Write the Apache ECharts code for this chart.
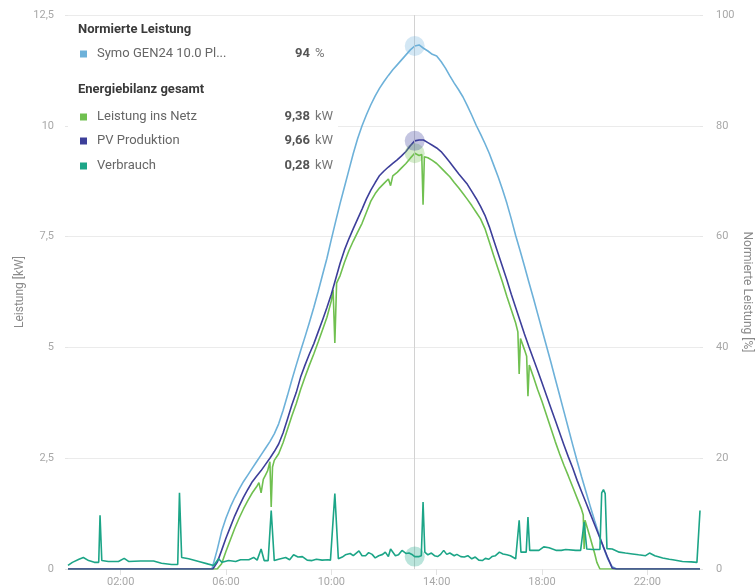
<!DOCTYPE html>
<html><head><meta charset="utf-8">
<script src="https://cdn.jsdelivr.net/npm/echarts@6/dist/echarts.min.js"></script>
<style>html,body{margin:0;padding:0;background:#fff}#c{width:756px;height:588px}</style>
</head><body><div id="c"></div>
<script>
// time in minutes since 00:00
const xLabelMinutes = [120, 360, 600, 840, 1080, 1320];

// Normierte Leistung [%] – Symo GEN24 10.0 Plus
const normiert = [[0,0],[328,0],[340,3.5],[350,6.8],[360,9.2],[370,11.2],[380,12.9],[390,14.4],[400,15.8],[410,17.0],[420,18.2],[430,19.4],[440,20.6],[450,21.8],[460,23.0],[470,24.4],[480,26.2],[490,28.6],[500,31.3],[510,34.1],[520,36.8],[530,39.4],[540,41.9],[550,44.5],[560,47.2],[570,50.1],[580,53.1],[590,56.1],[600,59.5],[610,62.8],[620,66.0],[630,69.0],[640,72.0],[650,75.0],[660,77.7],[670,80.0],[680,82.0],[690,83.8],[700,85.4],[710,86.8],[720,88.0],[730,89.1],[740,90.1],[750,91.0],[760,91.9],[770,92.8],[780,93.7],[790,94.4],[800,94.6],[810,94.0],[820,93.5],[830,92.9],[840,92.6],[850,91.6],[860,90.4],[870,89.0],[880,87.7],[890,86.5],[900,85.2],[910,83.6],[920,81.9],[930,80.1],[940,78.5],[950,76.8],[960,75.0],[970,72.9],[980,70.8],[990,68.5],[1000,66.0],[1010,63.2],[1020,60.2],[1030,57.5],[1040,54.7],[1050,51.8],[1060,49.0],[1070,46.1],[1080,43.2],[1090,40.3],[1100,37.4],[1110,34.4],[1120,31.4],[1130,28.4],[1140,25.4],[1150,22.4],[1160,19.5],[1170,16.7],[1180,14.0],[1190,11.3],[1200,8.7],[1210,6.2],[1220,3.9],[1230,1.8],[1240,0.4],[1250,0],[1440,0]];

// Leistung ins Netz [kW]
const insNetz = [[0,0],[340,0],[350,0.12],[360,0.4],[370,0.66],[380,0.92],[390,1.15],[400,1.36],[410,1.55],[420,1.72],[430,1.86],[435,1.95],[440,1.72],[445,2.02],[450,2.12],[455,2.22],[460,2.42],[463,1.4],[466,2.3],[470,2.45],[480,2.6],[490,2.85],[500,3.15],[510,3.45],[520,3.73],[530,4.05],[540,4.33],[550,4.6],[560,4.85],[570,5.12],[580,5.4],[590,5.68],[600,6.05],[604,6.3],[608,5.1],[612,6.45],[620,6.62],[630,6.92],[640,7.18],[650,7.4],[660,7.6],[670,7.8],[680,8.05],[690,8.3],[700,8.47],[710,8.6],[720,8.7],[730,8.8],[735,8.65],[740,8.87],[750,8.95],[760,9.05],[770,9.15],[780,9.27],[790,9.38],[800,9.33],[806,9.35],[809,8.22],[812,9.3],[820,9.28],[830,9.22],[840,9.15],[850,9.05],[860,8.95],[870,8.85],[880,8.72],[890,8.6],[900,8.47],[910,8.34],[920,8.2],[930,8.05],[940,7.9],[950,7.68],[960,7.38],[970,7.07],[980,6.77],[990,6.47],[1000,6.15],[1010,5.85],[1020,5.55],[1025,5.35],[1028,4.4],[1031,5.2],[1040,4.95],[1045,4.8],[1048,3.9],[1051,4.6],[1060,4.35],[1070,4.05],[1080,3.78],[1090,3.48],[1100,3.18],[1110,2.88],[1120,2.6],[1130,2.34],[1140,2.1],[1150,1.85],[1160,1.6],[1170,1.35],[1174,1.22],[1176,0.45],[1178,1.1],[1190,0.7],[1200,0.35],[1205,0.15],[1212,0],[1440,0]];

// PV Produktion [kW]
const pvProduktion = [[0,0],[330,0],[340,0.15],[350,0.42],[360,0.7],[370,0.95],[380,1.2],[390,1.42],[400,1.62],[410,1.8],[420,1.97],[430,2.1],[440,2.22],[450,2.36],[460,2.5],[470,2.65],[480,2.82],[490,3.07],[500,3.38],[510,3.7],[520,3.98],[530,4.33],[540,4.6],[550,4.85],[560,5.08],[570,5.35],[580,5.62],[590,5.9],[600,6.2],[610,6.55],[620,6.9],[630,7.2],[640,7.45],[650,7.68],[660,7.9],[670,8.12],[680,8.35],[690,8.55],[700,8.72],[710,8.88],[720,8.98],[730,9.07],[740,9.15],[750,9.23],[760,9.32],[770,9.42],[780,9.55],[790,9.66],[800,9.68],[810,9.68],[820,9.62],[830,9.56],[840,9.5],[850,9.42],[860,9.3],[870,9.18],[880,9.05],[890,8.92],[900,8.8],[910,8.68],[920,8.52],[930,8.36],[940,8.18],[950,7.98],[960,7.72],[970,7.42],[980,7.12],[990,6.82],[1000,6.52],[1010,6.2],[1020,5.9],[1030,5.6],[1040,5.3],[1050,5.02],[1060,4.75],[1070,4.48],[1080,4.2],[1090,3.92],[1100,3.64],[1110,3.36],[1120,3.08],[1130,2.8],[1140,2.53],[1150,2.28],[1160,2.0],[1170,1.75],[1180,1.5],[1190,1.25],[1200,1.0],[1210,0.75],[1220,0.5],[1230,0.25],[1240,0.02],[1250,0],[1440,0]];

// Verbrauch [kW]
const verbrauch = [[0,0.08],[10,0.15],[25,0.22],[35,0.26],[47,0.19],[60,0.15],[70,0.15],[73,1.21],[77,0.19],[92,0.17],[115,0.17],[128,0.24],[138,0.17],[165,0.18],[195,0.18],[213,0.13],[236,0.10],[250,0.10],[254,1.72],[259,0.26],[275,0.23],[298,0.17],[320,0.11],[332,0.08],[343,0.23],[351,0.15],[366,0.19],[382,0.17],[393,0.21],[412,0.21],[423,0.26],[431,0.20],[440,0.45],[447,0.19],[456,0.19],[463,1.32],[470,0.19],[480,0.22],[496,0.26],[505,0.21],[514,0.32],[524,0.27],[534,0.28],[545,0.20],[556,0.19],[566,0.22],[579,0.20],[592,0.21],[598,0.20],[608,1.70],[616,0.23],[625,0.27],[632,0.32],[643,0.35],[650,0.30],[663,0.41],[670,0.30],[678,0.30],[685,0.37],[693,0.33],[700,0.25],[708,0.30],[717,0.33],[723,0.38],[730,0.28],[735,0.45],[746,0.30],[753,0.32],[761,0.42],[770,0.35],[777,0.36],[785,0.32],[790,0.28],[800,0.28],[805,0.30],[809,1.51],[813,0.38],[820,0.32],[828,0.36],[835,0.30],[842,0.28],[849,0.33],[856,0.42],[863,0.33],[870,0.36],[880,0.30],[886,0.33],[895,0.28],[903,0.27],[911,0.30],[920,0.23],[928,0.27],[936,0.20],[944,0.19],[951,0.24],[959,0.22],[966,0.28],[974,0.30],[983,0.38],[991,0.34],[1000,0.32],[1008,0.30],[1020,0.23],[1024,0.24],[1028,1.10],[1032,0.38],[1044,0.38],[1048,1.17],[1052,0.42],[1060,0.42],[1073,0.42],[1084,0.50],[1096,0.48],[1104,0.45],[1113,0.42],[1124,0.42],[1134,0.44],[1157,0.42],[1168,0.42],[1176,1.06],[1182,0.45],[1195,0.44],[1203,0.44],[1212,0.44],[1216,1.72],[1220,1.79],[1224,1.70],[1228,0.46],[1240,0.45],[1256,0.38],[1270,0.36],[1286,0.34],[1300,0.32],[1316,0.30],[1325,0.36],[1337,0.30],[1355,0.25],[1370,0.22],[1378,0.21],[1400,0.17],[1420,0.16],[1433,0.15],[1440,1.32]];

// cursor (tooltip) position and values shown in the legend box
const cursorMinute = 790;
const cursorNormiert = 94;
const cursorNetz = 9.38;
const cursorPV = 9.66;
const cursorVerbrauch = 0.28;

const C_NORM = '#6db1d9', C_NETZ = '#70c050', C_PV = '#3d3f9a', C_VERB = '#1ca587';
const FONT = 'Roboto';
const de = v => String(v).replace('.', ',');
const hhmm = m => String(Math.floor(m/60)).padStart(2,'0') + ':' + String(m%60).padStart(2,'0');

function cursorMark(color, value) {
  return { symbol: 'circle', symbolSize: 20, silent: true, label: {show:false},
    itemStyle: {color: color, opacity: 0.3}, data: [{coord: [cursorMinute, value]}] };
}

const chart = echarts.init(document.getElementById('c'), null, {renderer: 'canvas'});
chart.setOption({
  animation: false,
  textStyle: {fontFamily: FONT},
  grid: {left: 68, right: 56, top: 15, bottom: 19, outerBoundsMode: 'none', containLabel: false},
  xAxis: {
    type: 'value', min: 0, max: 1440,
    axisLine: {show: false},
    splitLine: {show: false},
    axisTick: {show: true, customValues: xLabelMinutes, length: 6, lineStyle: {color: '#e2e2e2'}},
    axisLabel: {customValues: xLabelMinutes, formatter: v => hhmm(v), color: '#a8a8a8', fontSize: 11, margin: 8, fontFamily: FONT}
  },
  yAxis: [{
    type: 'value', min: 0, max: 12.5, interval: 2.5,
    name: 'Leistung [kW]', nameLocation: 'middle', nameRotate: 90, nameGap: 42, nameMoveOverlap: false,
    nameTextStyle: {color: '#8a8a8a', fontSize: 12, fontFamily: FONT},
    axisLine: {show: false},
    axisTick: {show: true, length: 3, lineStyle: {color: '#e6e6e6'}},
    axisLabel: {formatter: v => de(v), color: '#a8a8a8', fontSize: 11, margin: 14, fontFamily: FONT},
    splitLine: {lineStyle: {color: '#ebebeb'}}
  }, {
    type: 'value', min: 0, max: 100, interval: 20, position: 'right',
    name: 'Normierte Leistung [%]', nameLocation: 'middle', nameRotate: -90, nameGap: 41, nameMoveOverlap: false,
    nameTextStyle: {color: '#8a8a8a', fontSize: 12, fontFamily: FONT},
    axisLine: {show: false},
    axisTick: {show: true, length: 3, lineStyle: {color: '#e6e6e6'}},
    axisLabel: {color: '#a8a8a8', fontSize: 11, margin: 16, fontFamily: FONT},
    splitLine: {show: false}
  }],
  series: [
    {name: 'Symo GEN24 10.0 Plus', type: 'line', yAxisIndex: 1, data: normiert, showSymbol: false,
     lineStyle: {color: C_NORM, width: 1.6}, itemStyle: {color: C_NORM}, z: 2,
     markLine: {silent: true, symbol: 'none', label: {show: false}, lineStyle: {color: '#d2d2d2', width: 1, type: 'solid'},
                data: [{xAxis: cursorMinute}]},
     markPoint: cursorMark(C_NORM, cursorNormiert + 0.4)},
    {name: 'Leistung ins Netz', type: 'line', data: insNetz, showSymbol: false,
     lineStyle: {color: C_NETZ, width: 1.6}, itemStyle: {color: C_NETZ}, z: 3,
     markPoint: cursorMark(C_NETZ, cursorNetz)},
    {name: 'PV Produktion', type: 'line', data: pvProduktion, showSymbol: false,
     lineStyle: {color: C_PV, width: 1.6}, itemStyle: {color: C_PV}, z: 4,
     markPoint: cursorMark(C_PV, cursorPV)},
    {name: 'Verbrauch', type: 'line', data: verbrauch, showSymbol: false,
     lineStyle: {color: C_VERB, width: 1.6}, itemStyle: {color: C_VERB}, z: 5,
     markPoint: cursorMark(C_VERB, cursorVerbrauch)}
  ],
  graphic: [
    {type: 'rect', z: 50, shape: {x: 68, y: 17, width: 270, height: 163}, style: {fill: '#ffffff'}},
    {type: 'text', z: 51, x: 78, y: 30, style: {text: 'Normierte Leistung', font: 'bold 13px Roboto', fill: '#3a3a3a', verticalAlign: 'middle'}},
    {type: 'rect', z: 51, shape: {x: 80, y: 50.5, width: 7, height: 7}, style: {fill: C_NORM}},
    {type: 'text', z: 51, x: 97, y: 54, style: {text: 'Symo GEN24 10.0 Pl...', font: '13px Roboto', fill: '#666', verticalAlign: 'middle'}},
    {type: 'text', z: 51, x: 310, y: 54, style: {text: String(cursorNormiert), font: 'bold 13px Roboto', fill: '#555', align: 'right', verticalAlign: 'middle'}},
    {type: 'text', z: 51, x: 315, y: 54, style: {text: '%', font: '13px Roboto', fill: '#777', verticalAlign: 'middle'}},
    {type: 'text', z: 51, x: 78, y: 90, style: {text: 'Energiebilanz gesamt', font: 'bold 13px Roboto', fill: '#3a3a3a', verticalAlign: 'middle'}},
    {type: 'rect', z: 51, shape: {x: 80, y: 113.5, width: 7, height: 7}, style: {fill: C_NETZ}},
    {type: 'text', z: 51, x: 97, y: 117, style: {text: 'Leistung ins Netz', font: '13px Roboto', fill: '#666', verticalAlign: 'middle'}},
    {type: 'text', z: 51, x: 310, y: 117, style: {text: cursorNetz.toFixed(2).replace('.', ','), font: 'bold 13px Roboto', fill: '#555', align: 'right', verticalAlign: 'middle'}},
    {type: 'text', z: 51, x: 315, y: 117, style: {text: 'kW', font: '13px Roboto', fill: '#777', verticalAlign: 'middle'}},
    {type: 'rect', z: 51, shape: {x: 80, y: 137.5, width: 7, height: 7}, style: {fill: C_PV}},
    {type: 'text', z: 51, x: 97, y: 141, style: {text: 'PV Produktion', font: '13px Roboto', fill: '#666', verticalAlign: 'middle'}},
    {type: 'text', z: 51, x: 310, y: 141, style: {text: cursorPV.toFixed(2).replace('.', ','), font: 'bold 13px Roboto', fill: '#555', align: 'right', verticalAlign: 'middle'}},
    {type: 'text', z: 51, x: 315, y: 141, style: {text: 'kW', font: '13px Roboto', fill: '#777', verticalAlign: 'middle'}},
    {type: 'rect', z: 51, shape: {x: 80, y: 162.5, width: 7, height: 7}, style: {fill: C_VERB}},
    {type: 'text', z: 51, x: 97, y: 166, style: {text: 'Verbrauch', font: '13px Roboto', fill: '#666', verticalAlign: 'middle'}},
    {type: 'text', z: 51, x: 310, y: 166, style: {text: cursorVerbrauch.toFixed(2).replace('.', ','), font: 'bold 13px Roboto', fill: '#555', align: 'right', verticalAlign: 'middle'}},
    {type: 'text', z: 51, x: 315, y: 166, style: {text: 'kW', font: '13px Roboto', fill: '#777', verticalAlign: 'middle'}}
  ]
});
</script>
</body></html>
